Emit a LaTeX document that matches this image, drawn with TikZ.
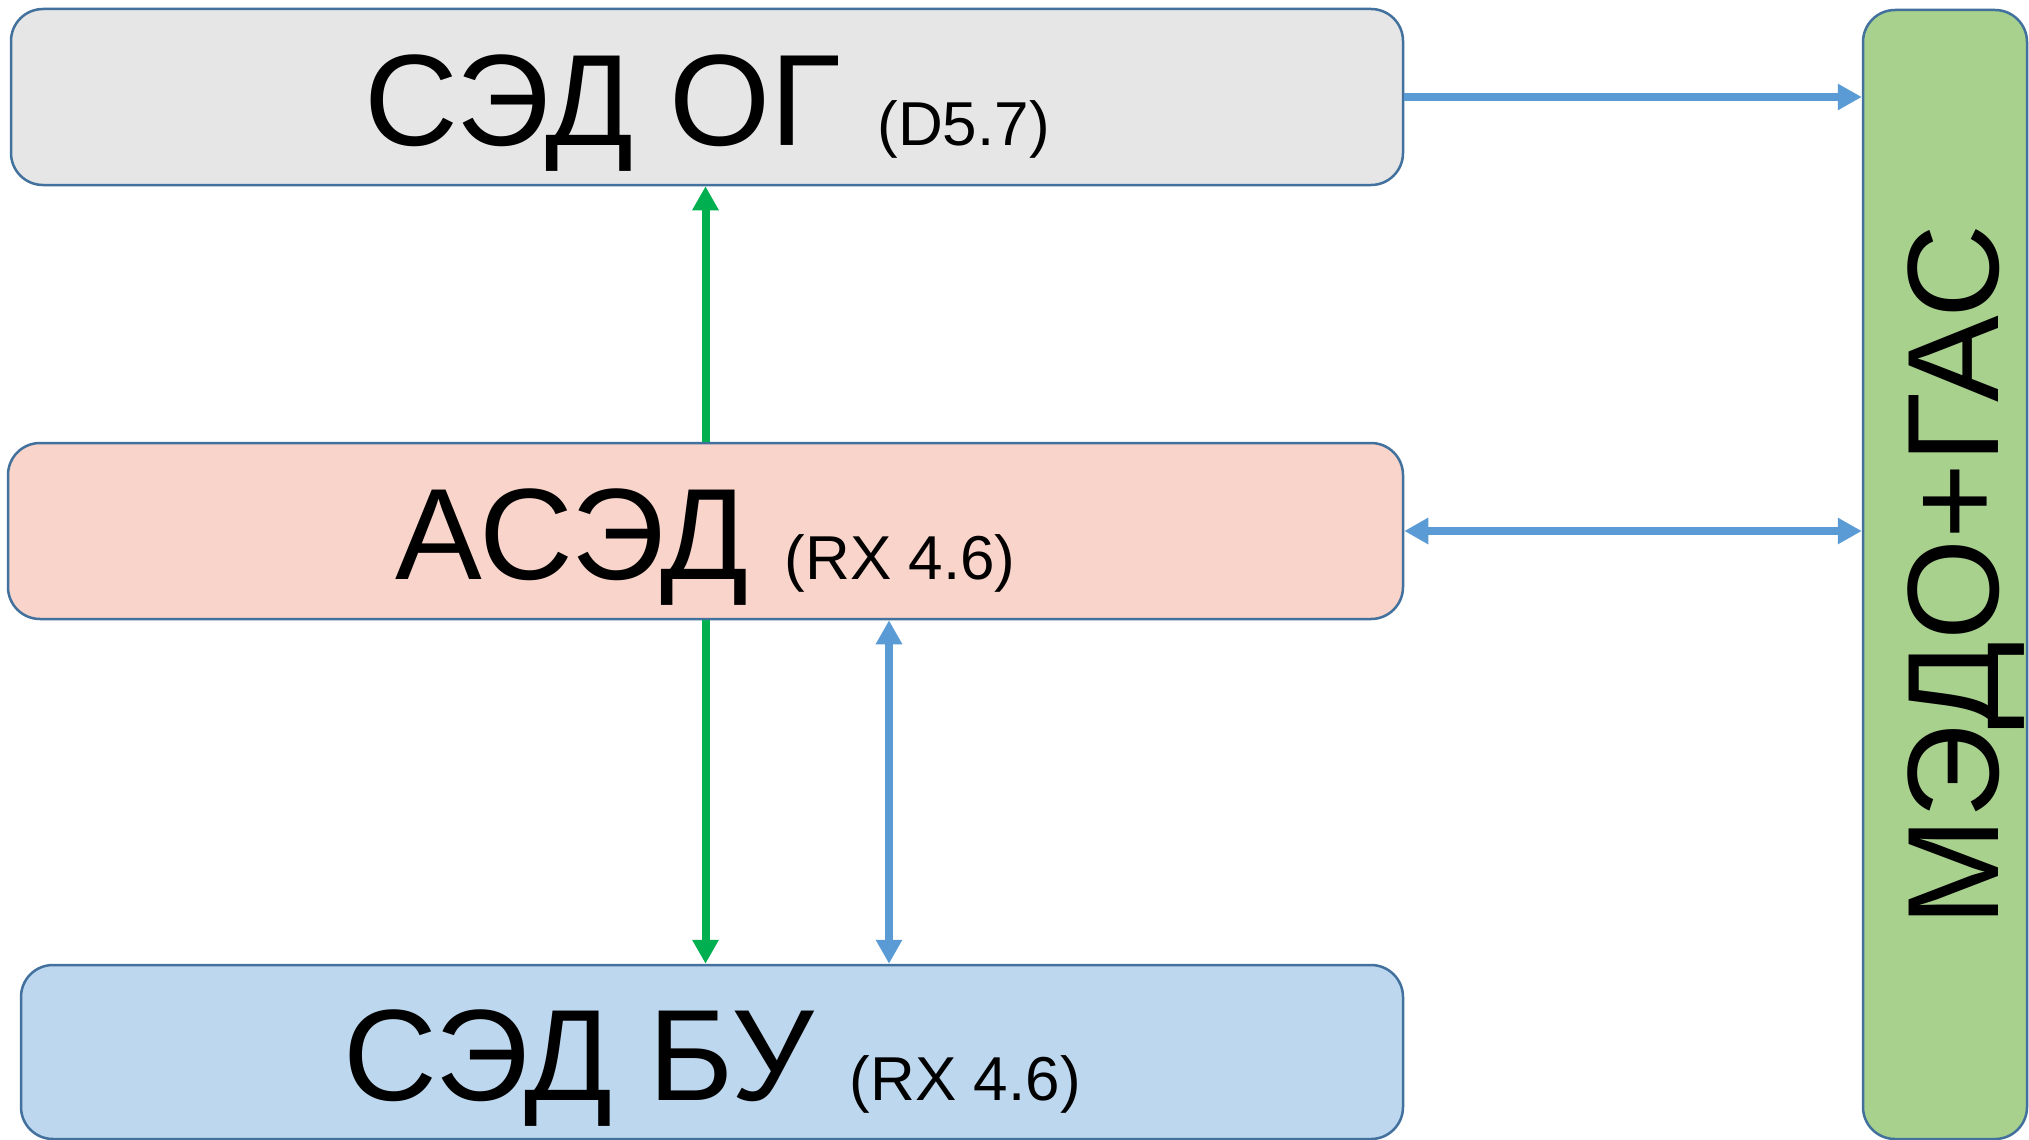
\documentclass[tikz,border=0pt]{standalone}
\usepackage{fontspec}
\setmainfont{Liberation Sans}
\usetikzlibrary{arrows.meta}
\definecolor{bordc}{HTML}{41719C}
\definecolor{grayf}{HTML}{E6E6E6}
\definecolor{pinkf}{HTML}{F9D4CA}
\definecolor{bluef}{HTML}{BDD7EE}
\definecolor{greenf}{HTML}{A9D18E}
\definecolor{arrblue}{HTML}{5B9BD5}
\definecolor{arrgreen}{HTML}{00B050}
\newcommand{\bigtxt}{\fontsize{130}{134}\selectfont}
\newcommand{\smalltxt}{\fontsize{62}{66}\selectfont}
\begin{document}
\begin{tikzpicture}[x=1pt,y=-1pt,
  box/.style={draw=bordc, line width=2.5pt, rounded corners=32pt, inner sep=0pt,
              text height=96pt, text depth=0pt},
  flow/.style={line width=8pt, -{Triangle[width=25pt,length=24pt]}},
  flowtwo/.style={line width=8pt, {Triangle[width=25pt,length=24pt]}-{Triangle[width=25pt,length=24pt]}}]
\useasboundingbox (0,0) rectangle (2029,1140);
\fill[white] (0,0) rectangle (2029,1140);

\node[box, fill=grayf, minimum width=1392pt, minimum height=176pt] (og) at (707,97)
  {\bigtxt СЭД ОГ {\smalltxt(D5.7)}};
\node[box, fill=pinkf, minimum width=1395pt, minimum height=176pt] (asd) at (705.5,531)
  {\bigtxt АСЭД {\smalltxt(RX 4.6)}};
\node[box, fill=bluef, minimum width=1382pt, minimum height=174pt] (bu) at (712,1052)
  {\bigtxt СЭД БУ {\smalltxt(RX 4.6)}};
\node[box, fill=greenf, minimum width=164pt, minimum height=1129pt] (medo) at (1945,574.5) {};
\node[inner sep=0pt, text height=92pt, text depth=0pt, rotate=90] (medotxt) at (1952,575.5)
  {\bigtxt МЭДО+ГАС};

\draw[flow, arrgreen] (asd.north) -- (asd.north |- og.south);
\draw[flow, arrgreen] (asd.south) -- (asd.south |- bu.north);
\draw[flowtwo, arrblue] ([xshift=183.5pt]asd.south) -- ([xshift=183.5pt]asd.south |- bu.north);
\draw[flow, arrblue] (og.east) -- (og.east -| medo.west);
\draw[flowtwo, arrblue] (asd.east) -- (asd.east -| medo.west);
\end{tikzpicture}
\end{document}
